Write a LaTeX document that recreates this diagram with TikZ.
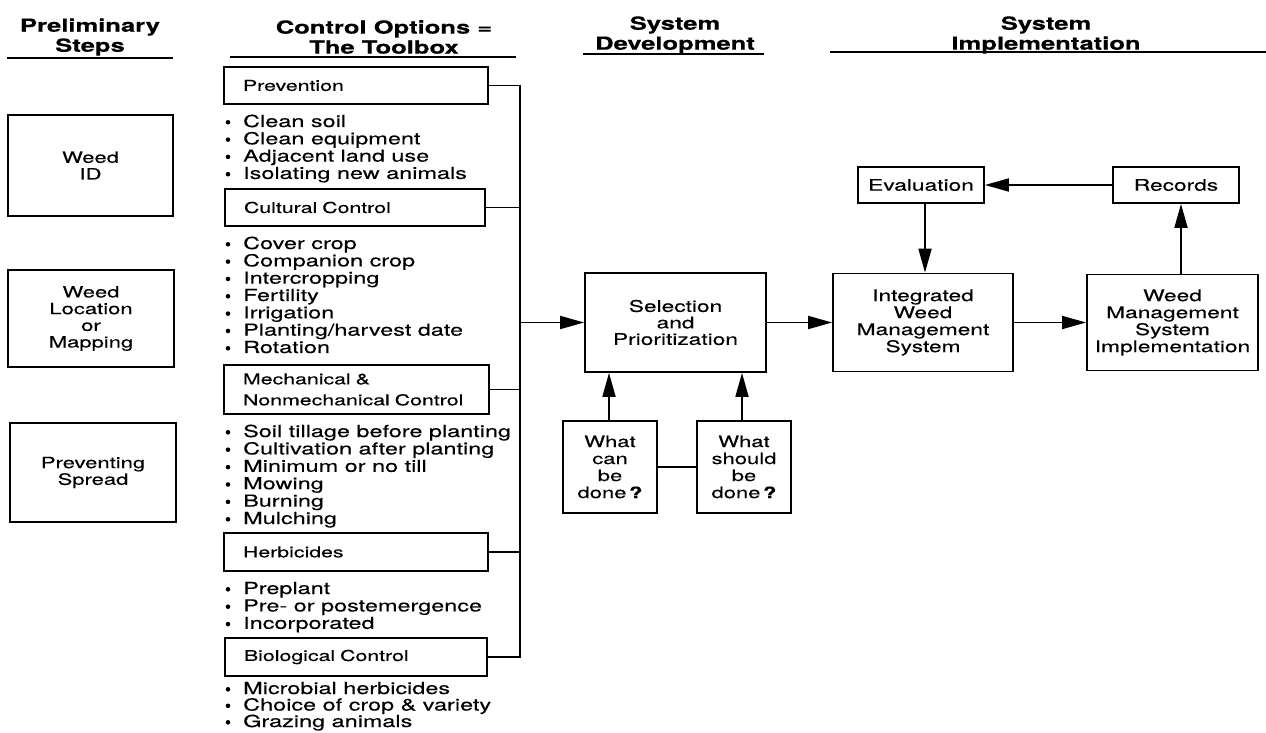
\documentclass[tikz,border=0pt]{standalone}
\usepackage{fontspec}
\setmainfont[FakeStretch=1.42,FakeBold=0.3]{TeX Gyre Heros}
\usetikzlibrary{arrows.meta}
\begin{document}
\begin{tikzpicture}[x=1pt,y=-1pt,
  hdr/.style={font=\fontsize{18}{20}\selectfont\bfseries, align=center, inner sep=0pt},
  uline/.style={line width=2pt},
  box/.style={draw, line width=1.8pt, inner sep=0pt, align=center, font=\fontsize{15.5}{16.7}\selectfont},
  tbox/.style={draw, line width=1.8pt, inner xsep=19pt, inner ysep=0pt, align=left, font=\fontsize{15}{21}\selectfont},
  item/.style={anchor=base west, inner sep=0pt, font=\fontsize{16.5}{17.3}\selectfont},
  conn/.style={line width=1.8pt},
  arr/.style={conn, -{Triangle[length=24pt,width=13pt]}}
]
\useasboundingbox (0,0) rectangle (1266,733);
\fill[white] (0,0) rectangle (1266,733);

% headers
\node[hdr] (h1) at (90,37) {Preliminary\\Steps};
\node[hdr] (h2) at (384,37) {Control Options =\\The Toolbox};
\node[hdr] (h3) at (675,35) {System\\Development};
\node[hdr] (h4) at (1046,35) {System\\Implementation};
\draw[uline] (7,58) -- (173,58);
\draw[uline] (230,57) -- (516,57);
\draw[uline] (583,54) -- (764,54);
\draw[uline] (830,52) -- (1266,52);

% preliminary steps
\node[box, minimum width=165pt, minimum height=101pt] (wid) at (90.5,165.5) {Weed\\ID};
\node[box, minimum width=166pt, minimum height=97pt] (wloc) at (91,318.5) {Weed\\Location\\or\\Mapping};
\node[box, minimum width=166pt, minimum height=99pt] (wspr) at (93,472.5) {Preventing\\Spread};

% toolbox
\node[tbox, text width=226pt, minimum height=37pt] (prev) at (356,85.5) {Prevention};
\node[tbox, text width=222pt, minimum height=37pt] (cult) at (355,207.5) {Cultural Control};
\node[tbox, text width=227pt, minimum height=49pt] (mech) at (356.5,389.5) {Mechanical \&\\Nonmechanical Control};
\node[tbox, text width=226pt, minimum height=38pt] (herb) at (356,552) {Herbicides};
\node[tbox, text width=224pt, minimum height=38pt] (bio) at (356,657) {Biological Control};

\foreach \t [count=\i from 0] in {Clean soil, Clean equipment, Adjacent land use, Isolating new animals}{
  \node[item] (pi\i) at (243,127+17.3*\i) {\t};
  \fill (228,122.3+17.3*\i) circle (2.3pt);}
\foreach \t [count=\i from 0] in {Cover crop, Companion crop, Intercropping, Fertility, Irrigation, Planting/harvest date, Rotation}{
  \node[item] (ci\i) at (243,249+17.33*\i) {\t};
  \fill (228,244.3+17.33*\i) circle (2.3pt);}
\foreach \t [count=\i from 0] in {Soil tillage before planting, Cultivation after planting, Minimum or no till, Mowing, Burning, Mulching}{
  \node[item] (mi\i) at (243,437+17.4*\i) {\t};
  \fill (228,432.3+17.4*\i) circle (2.3pt);}
\foreach \t [count=\i from 0] in {Preplant, Pre- or postemergence, Incorporated}{
  \node[item] (hi\i) at (243,594+17.4*\i) {\t};
  \fill (228,589.3+17.4*\i) circle (2.3pt);}
\foreach \t [count=\i from 0] in {Microbial herbicides, Choice of crop \& variety, Grazing animals}{
  \node[item] (bi\i) at (243,694+16.5*\i) {\t};
  \fill (228,689.3+16.5*\i) circle (2.3pt);}

% bus
\coordinate (bt) at (520,85.5);
\coordinate (bb) at (520,657);
\coordinate (bo) at (520,322.5);
\draw[conn] (prev.east) -- (bt) -- (bb) -- (bio.east);
\draw[conn] (cult.east) -- (cult.east -| bt);
\draw[conn] (mech.east) -- (mech.east -| bt);
\draw[conn] (herb.east) -- (herb.east -| bt);

% system development
\node[box, minimum width=181pt, minimum height=99pt, font=\fontsize{16}{16.5}\selectfont] (sel) at (675.5,322.5) {Selection\\and\\Prioritization};
\node[box, minimum width=94pt, minimum height=92pt, font=\fontsize{15.5}{17}\selectfont] (can) at (610,467) {What\\can\\be\\done\,\textbf{?}};
\node[box, minimum width=94pt, minimum height=92pt, font=\fontsize{15.5}{17}\selectfont] (should) at (744,467) {What\\should\\be\\done\,\textbf{?}};
\draw[arr] (bo) -- (sel.west);
\coordinate (cx) at (609,0);
\coordinate (sx) at (742,0);
\draw[arr] (can.north -| cx) -- (sel.south -| cx);
\draw[arr] (should.north -| sx) -- (sel.south -| sx);
\draw[conn] (can.east) -- (should.west);

% system implementation
\node[box, minimum width=180pt, minimum height=98pt, font=\fontsize{16}{17}\selectfont] (iwm) at (923,322.5) {Integrated\\Weed\\Management\\System};
\node[box, minimum width=171pt, minimum height=96pt, font=\fontsize{16}{17}\selectfont] (wmsi) at (1172.5,322.5) {Weed\\Management\\System\\Implementation};
\node[box, minimum width=126pt, minimum height=36pt, font=\fontsize{16}{17}\selectfont] (eval) at (921,185) {Evaluation};
\node[box, minimum width=126pt, minimum height=36pt, font=\fontsize{16}{17}\selectfont] (rec) at (1176,185) {Records};
\draw[arr] (sel.east) -- (iwm.west);
\draw[arr] (iwm.east) -- (wmsi.west);
\draw[arr] (rec.west) -- (eval.east);
\coordinate (ex) at (925,0);
\coordinate (rx) at (1181,0);
\draw[arr] (eval.south -| ex) -- (iwm.north -| ex);
\draw[arr] (wmsi.north -| rx) -- (rec.south -| rx);
\end{tikzpicture}
\end{document}
